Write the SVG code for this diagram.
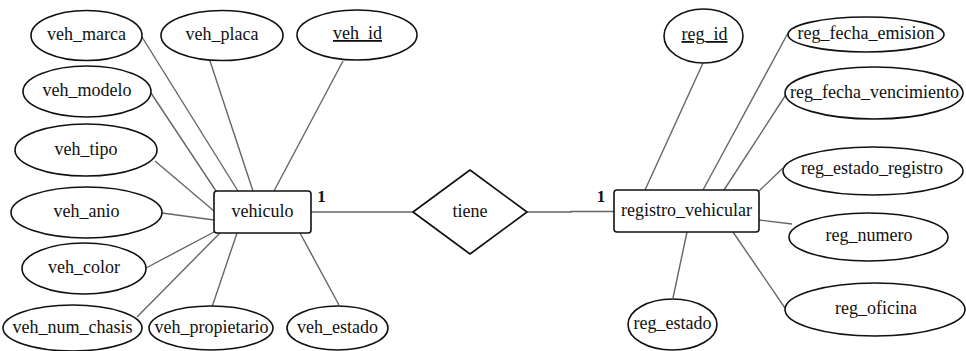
<svg xmlns="http://www.w3.org/2000/svg" width="966" height="351" viewBox="0 0 966 351">
<style>
.sh{fill:#fff;stroke:#111;stroke-width:1.6}
.ln{stroke:#666;stroke-width:1.4;fill:none}
text{font-family:"Liberation Serif","Times New Roman",serif;font-size:18px;fill:#111;text-anchor:middle}
.pk{text-decoration:underline}
.card{font-weight:bold;font-size:17px}
</style>
<rect width="966" height="351" fill="#fff"/>
<g id="connectors">
<line class="ln" x1="142" y1="37" x2="238" y2="191"/>
<line class="ln" x1="210" y1="61" x2="253" y2="191"/>
<line class="ln" x1="343" y1="61" x2="274" y2="191"/>
<line class="ln" x1="151" y1="93" x2="216" y2="191"/>
<line class="ln" x1="155" y1="161" x2="214" y2="211"/>
<line class="ln" x1="162" y1="213" x2="214" y2="220"/>
<line class="ln" x1="146" y1="268" x2="214" y2="232"/>
<line class="ln" x1="137" y1="317" x2="220" y2="233"/>
<line class="ln" x1="212" y1="307" x2="237" y2="233"/>
<line class="ln" x1="339" y1="305" x2="300" y2="233"/>
<line class="ln" x1="311" y1="212" x2="413" y2="212"/>
<polyline class="ln" points="527,212 571,212 571,211.5 614,211.5"/>
<line class="ln" x1="703" y1="63" x2="645" y2="190"/>
<line class="ln" x1="788" y1="33" x2="703" y2="190"/>
<line class="ln" x1="787" y1="93" x2="724" y2="190"/>
<line class="ln" x1="783" y1="168" x2="759" y2="191"/>
<line class="ln" x1="759" y1="220" x2="792" y2="224"/>
<line class="ln" x1="733" y1="232" x2="785" y2="308"/>
<line class="ln" x1="687" y1="232" x2="673" y2="298"/>
<text class="card" x="321.5" y="202">1</text>
<text class="card" x="601" y="202">1</text>
</g>
<g id="vehiculo"><rect class="sh" x="214" y="191" width="97" height="42" rx="3"/><text x="262.5" y="217">vehiculo</text></g>
<g id="tiene"><polygon class="sh" stroke-linejoin="round" points="470,170 527,212 470,254 413,212"/><text x="470" y="217">tiene</text></g>
<g id="registro_vehicular"><rect class="sh" x="614" y="190" width="145" height="42" rx="3"/><text x="686.5" y="216">registro_vehicular</text></g>
<g id="veh_marca"><ellipse class="sh" cx="86.5" cy="35.5" rx="55.5" ry="25"/><text x="86.5" y="40">veh_marca</text></g>
<g id="veh_placa"><ellipse class="sh" cx="222" cy="35.5" rx="61" ry="25"/><text x="222" y="40">veh_placa</text></g>
<g id="veh_id"><ellipse class="sh" cx="357" cy="35" rx="60" ry="25"/><text class="pk" x="357.5" y="39">veh_id</text></g>
<g id="veh_modelo"><ellipse class="sh" cx="87" cy="91.5" rx="64" ry="25.5"/><text x="87" y="96">veh_modelo</text></g>
<g id="veh_tipo"><ellipse class="sh" cx="86" cy="150" rx="71" ry="26"/><text x="86" y="155">veh_tipo</text></g>
<g id="veh_anio"><ellipse class="sh" cx="86.5" cy="212.5" rx="75.5" ry="25.5"/><text x="86.5" y="217">veh_anio</text></g>
<g id="veh_color"><ellipse class="sh" cx="84" cy="268.5" rx="62" ry="25.5"/><text x="84" y="273">veh_color</text></g>
<g id="veh_num_chasis"><ellipse class="sh" cx="72.5" cy="328" rx="69.5" ry="23"/><text x="72.5" y="333">veh_num_chasis</text></g>
<g id="veh_propietario"><ellipse class="sh" cx="211" cy="328" rx="62" ry="22"/><text x="211.5" y="333">veh_propietario</text></g>
<g id="veh_estado"><ellipse class="sh" cx="337.5" cy="328" rx="50.5" ry="22"/><text x="337.5" y="333">veh_estado</text></g>
<g id="reg_id"><ellipse class="sh" cx="703.5" cy="36" rx="39.5" ry="27"/><text class="pk" x="704.5" y="40">reg_id</text></g>
<g id="reg_fecha_emision"><ellipse class="sh" cx="866" cy="34.5" rx="78" ry="17.5"/><text x="866" y="39">reg_fecha_emision</text></g>
<g id="reg_fecha_vencimiento"><ellipse class="sh" cx="874" cy="93" rx="89" ry="26"/><text x="874.5" y="98">reg_fecha_vencimiento</text></g>
<g id="reg_estado_registro"><ellipse class="sh" cx="873" cy="171" rx="90" ry="24"/><text x="872" y="174">reg_estado_registro</text></g>
<g id="reg_numero"><ellipse class="sh" cx="868.5" cy="237" rx="79.5" ry="24"/><text x="869" y="241">reg_numero</text></g>
<g id="reg_oficina"><ellipse class="sh" cx="875" cy="309.5" rx="90" ry="26.5"/><text x="876" y="314">reg_oficina</text></g>
<g id="reg_estado"><ellipse class="sh" cx="672.5" cy="324.5" rx="44.5" ry="25.5"/><text x="672.5" y="329">reg_estado</text></g>
</svg>
